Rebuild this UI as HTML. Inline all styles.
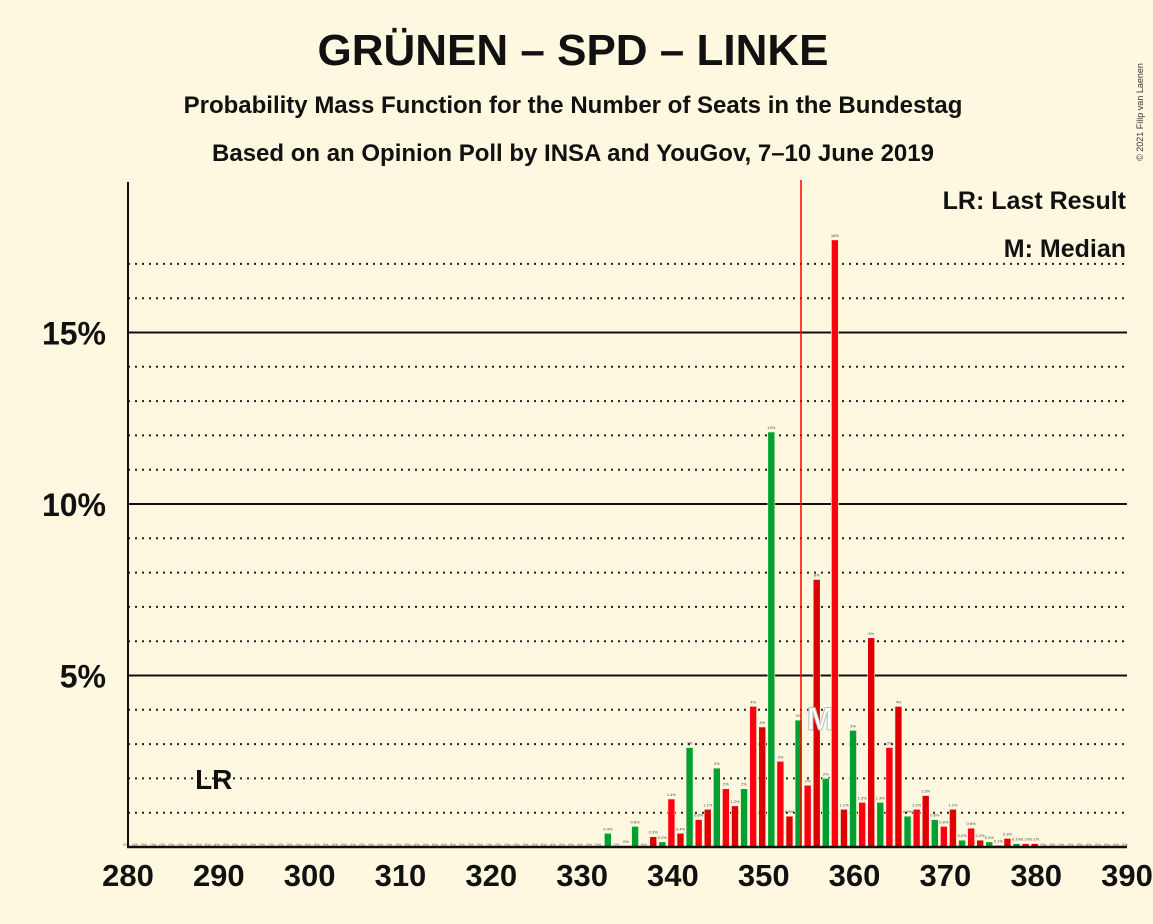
<!DOCTYPE html>
<html><head><meta charset="utf-8"><style>
body{margin:0;background:#fff8e1;}
svg{display:block;font-family:"Liberation Sans",sans-serif;}
</style></head><body>
<svg id="chart" width="1153" height="924" xmlns="http://www.w3.org/2000/svg">
<rect width="1153" height="924" fill="#fff8e1"/>
<text x="573" y="65" text-anchor="middle" font-size="44" font-weight="bold" fill="#111">GRÜNEN – SPD – LINKE</text>
<text x="573" y="113" text-anchor="middle" font-size="24" font-weight="bold" fill="#111">Probability Mass Function for the Number of Seats in the Bundestag</text>
<text x="573" y="161" text-anchor="middle" font-size="24" font-weight="bold" fill="#111">Based on an Opinion Poll by INSA and YouGov, 7–10 June 2019</text>
<text transform="translate(1143,112) rotate(-90)" text-anchor="middle" font-size="9" fill="#333">© 2021 Filip van Laenen</text>
<g id="grid"></g>
<g id="bars"></g>
<g id="axes"></g>
<text x="1126" y="209" text-anchor="end" font-size="25" font-weight="bold" fill="#111">LR: Last Result</text>
<text x="1126" y="257" text-anchor="end" font-size="25" font-weight="bold" fill="#111">M: Median</text>
</svg>
<script>
const seats=[333,335,336,338,339,340,341,342,343,344,345,346,347,348,349,350,351,352,353,354,355,356,357,358,359,360,361,362,363,364,365,366,367,368,369,370,371,372,373,374,375,376,377,378,379,380];
const probs=[0.4,0.03,0.6,0.3,0.15,1.4,0.4,2.9,0.8,1.1,2.3,1.7,1.2,1.7,4.1,3.5,12.1,2.5,0.9,3.7,1.8,7.8,2.0,17.7,1.1,3.4,1.3,6.1,1.3,2.9,4.1,0.9,1.1,1.5,0.8,0.6,1.1,0.2,0.55,0.2,0.15,0.05,0.25,0.1,0.1,0.1];
const labels=["0.4%","0%","0.6%","0.3%","0.2%","1.4%","0.4%","3%","0.8%","1.1%","2%","2%","1.2%","2%","4%","4%","12%","3%","0.9%","4%","2%","8%","2%","18%","1.1%","3%","1.3%","6%","1.3%","3%","4%","0.9%","1.1%","1.5%","0.8%","0.6%","1.1%","0.2%","0.6%","0.2%","0.2%","0.1%","0.3%","0.1%","0.1%","0.1%"];
const xTicks=[280,290,300,310,320,330,340,350,360,370,380,390];
const yMajor=[5,10,15];
const yMinor=[1,2,3,4,6,7,8,9,11,12,13,14,16,17];
const lastResult=289;
const median=355;
const NS="http://www.w3.org/2000/svg";
const X=s=>128+(s-280)*(999/110);
const Y=p=>847-p*34.3;
function mk(tag,attrs,parent,text){const e=document.createElementNS(NS,tag);for(const k in attrs)e.setAttribute(k,attrs[k]);if(text!==undefined)e.textContent=text;parent.appendChild(e);return e;}
const grid=document.getElementById('grid'),bars=document.getElementById('bars'),axes=document.getElementById('axes');
yMinor.forEach(v=>{const l=mk('line',{x1:128,x2:1127,y1:Y(v),y2:Y(v),stroke:'#222','stroke-width':2,'stroke-dasharray':'2,5'},grid);

});
yMajor.forEach(v=>{const l=mk('line',{x1:128,x2:1127,y1:Y(v),y2:Y(v),stroke:'#111','stroke-width':2},grid);


const t=mk('text',{x:106,y:Y(v)+12,'text-anchor':'end','font-size':32,'font-weight':'bold',fill:'#111'},axes,v+'%');

});
for(let s=280;s<=390;s++){if(seats.includes(s))continue;
const t=mk('text',{x:X(s)-2,y:846,'text-anchor':'middle','font-size':4,fill:'#555'},bars,'0%');

}
seats.forEach((s,i)=>{const m=s%3;const c=m===0?'#00a030':(m===1?'#ff0010':'#dd0000');
const h=probs[i]*34.3;
const r=mk('rect',{x:X(s)-5,y:847-h,width:7,height:h,fill:c,stroke:'#fff8e1','stroke-width':0.6},bars);


const t=mk('text',{x:X(s)-1.5,y:847-h-3,'text-anchor':'middle','font-size':4,fill:'#444'},bars,labels[i]);

});
const ml=mk('line',{x1:801,x2:801,y1:180,y2:847,stroke:'#ff0000','stroke-width':1.5},axes);


const mt=mk('text',{x:X(median)+11,y:730,'text-anchor':'middle','font-size':32,'font-weight':'bold',fill:'#ffffff',stroke:'#bbb','stroke-width':1},axes,'M');


const lr=mk('text',{x:X(lastResult)+4,y:789,'text-anchor':'middle','font-size':28,'font-weight':'bold',fill:'#111'},axes,'LR');


const ya=mk('line',{x1:128,x2:128,y1:182,y2:848,stroke:'#111','stroke-width':2},axes);


const xa=mk('line',{x1:127,x2:1127,y1:847,y2:847,stroke:'#111','stroke-width':2.5},axes);


xTicks.forEach(v=>{const t=mk('text',{x:X(v),y:886,'text-anchor':'middle','font-size':31,'font-weight':'bold',fill:'#111'},axes,v);

});
</script>
</body></html>
